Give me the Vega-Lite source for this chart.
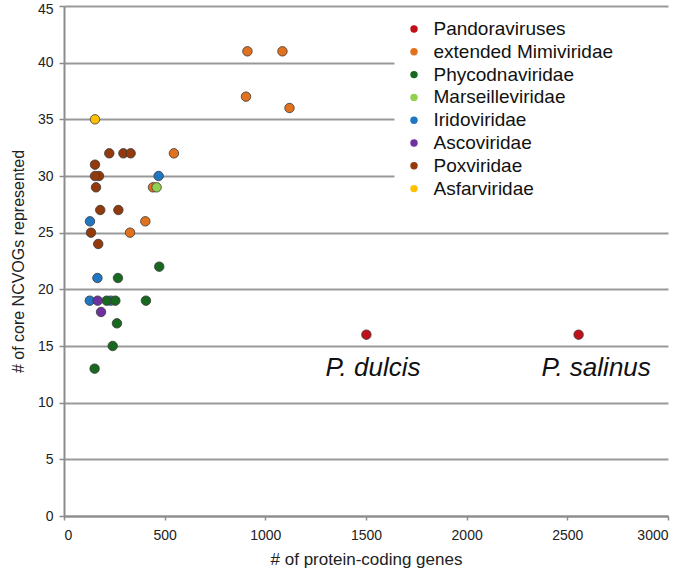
{
  "$schema": "https://vega.github.io/schema/vega-lite/v6.json",
  "width": 604,
  "height": 510,
  "autosize": {"type": "none"},
  "padding": {"left": 64, "top": 6, "right": 17, "bottom": 53},
  "background": "white",
  "config": {"view": {"stroke": null}, "font": "Liberation Sans"},
  "datasets": {
    "pts": [
      {"genes": 1502, "ncvogs": 16, "group": "Pandoraviruses"},
      {"genes": 2556, "ncvogs": 16, "group": "Pandoraviruses"},
      {"genes": 911, "ncvogs": 41, "group": "extended Mimiviridae"},
      {"genes": 1085, "ncvogs": 41, "group": "extended Mimiviridae"},
      {"genes": 904, "ncvogs": 37, "group": "extended Mimiviridae"},
      {"genes": 1120, "ncvogs": 36, "group": "extended Mimiviridae"},
      {"genes": 546, "ncvogs": 32, "group": "extended Mimiviridae"},
      {"genes": 442, "ncvogs": 29, "group": "extended Mimiviridae"},
      {"genes": 404, "ncvogs": 26, "group": "extended Mimiviridae"},
      {"genes": 328, "ncvogs": 25, "group": "extended Mimiviridae"},
      {"genes": 473, "ncvogs": 22, "group": "Phycodnaviridae"},
      {"genes": 268, "ncvogs": 21, "group": "Phycodnaviridae"},
      {"genes": 407, "ncvogs": 19, "group": "Phycodnaviridae"},
      {"genes": 263, "ncvogs": 17, "group": "Phycodnaviridae"},
      {"genes": 242, "ncvogs": 15, "group": "Phycodnaviridae"},
      {"genes": 152, "ncvogs": 13, "group": "Phycodnaviridae"},
      {"genes": 460, "ncvogs": 29, "group": "Marseilleviridae"},
      {"genes": 470, "ncvogs": 30, "group": "Iridoviridae"},
      {"genes": 129, "ncvogs": 26, "group": "Iridoviridae"},
      {"genes": 166, "ncvogs": 21, "group": "Iridoviridae"},
      {"genes": 128, "ncvogs": 19, "group": "Iridoviridae"},
      {"genes": 232, "ncvogs": 19, "group": "Iridoviridae"},
      {"genes": 212, "ncvogs": 19, "group": "Phycodnaviridae"},
      {"genes": 255, "ncvogs": 19, "group": "Phycodnaviridae"},
      {"genes": 167, "ncvogs": 19, "group": "Ascoviridae"},
      {"genes": 184, "ncvogs": 18, "group": "Ascoviridae"},
      {"genes": 225, "ncvogs": 32, "group": "Poxviridae"},
      {"genes": 295, "ncvogs": 32, "group": "Poxviridae"},
      {"genes": 331, "ncvogs": 32, "group": "Poxviridae"},
      {"genes": 154, "ncvogs": 31, "group": "Poxviridae"},
      {"genes": 174, "ncvogs": 30, "group": "Poxviridae"},
      {"genes": 154, "ncvogs": 30, "group": "Poxviridae"},
      {"genes": 159, "ncvogs": 29, "group": "Poxviridae"},
      {"genes": 180, "ncvogs": 27, "group": "Poxviridae"},
      {"genes": 270, "ncvogs": 27, "group": "Poxviridae"},
      {"genes": 134, "ncvogs": 25, "group": "Poxviridae"},
      {"genes": 170, "ncvogs": 24, "group": "Poxviridae"},
      {"genes": 154, "ncvogs": 35, "group": "Asfarviridae"}
    ],
    "notes": [
      {"genes": 1535, "ncvogs": 13.1, "label": "P. dulcis"},
      {"genes": 2643, "ncvogs": 13.1, "label": "P. salinus"}
    ]
  },
  "layer": [
    {
      "data": {"name": "pts"},
      "mark": {"type": "circle", "size": 90, "opacity": 1, "stroke": "#3a3a3a", "strokeWidth": 0.8},
      "encoding": {
        "x": {
          "field": "genes", "type": "quantitative",
          "scale": {"domain": [0, 3000], "nice": false},
          "axis": {
            "values": [0, 500, 1000, 1500, 2000, 2500, 3000],
            "format": "d",
            "grid": false,
            "domainColor": "#8c8c8c", "domainWidth": 2,
            "tickColor": "#8c8c8c", "tickWidth": 1.5, "tickSize": 4,
            "labelFontSize": 14, "labelColor": "#222", "labelPadding": 8,
            "title": "# of protein-coding genes",
            "titleFontSize": 17, "titleFontWeight": "normal", "titleColor": "#222", "titlePadding": 9
          }
        },
        "y": {
          "field": "ncvogs", "type": "quantitative",
          "scale": {"domain": [0, 45], "nice": false},
          "axis": {
            "values": [0, 5, 10, 15, 20, 25, 30, 35, 40, 45],
            "grid": true, "gridColor": "#999999", "gridWidth": 2,
            "domainColor": "#8c8c8c", "domainWidth": 2,
            "tickColor": "#8c8c8c", "tickWidth": 1.5, "tickSize": 5,
            "labelFontSize": 14, "labelColor": "#222", "labelPadding": 6,
            "labelOffset": {"condition": {"test": "datum.value == 45", "value": 3}, "value": 0},
            "title": "# of core NCVOGs  represented",
            "titleFontSize": 16, "titleFontWeight": "normal", "titleColor": "#222", "titlePadding": 11
          }
        },
        "color": {
          "field": "group", "type": "nominal",
          "scale": {
            "domain": ["Pandoraviruses", "extended Mimiviridae", "Phycodnaviridae", "Marseilleviridae", "Iridoviridae", "Ascoviridae", "Poxviridae", "Asfarviridae"],
            "range": ["#C0111B", "#E2711D", "#17691F", "#93D050", "#1F77C4", "#7031A0", "#933A0C", "#FFC000"]
          },
          "legend": {
            "title": "\u00a0",
            "titleOrient": "right",
            "titlePadding": 60,
            "titleFontSize": 10,
            "orient": "none",
            "legendX": 330.5,
            "legendY": 3.5,
            "padding": 10,
            "fillColor": "white",
            "symbolType": "circle",
            "symbolSize": 55,
            "symbolStrokeWidth": 0,
            "symbolOpacity": 1,
            "labelFontSize": 19,
            "labelColor": "#111",
            "labelOffset": 10,
            "rowPadding": 2.8,
            "labelLimit": 500
          }
        }
      }
    },
    {
      "data": {"name": "notes"},
      "mark": {"type": "text", "fontStyle": "italic", "fontSize": 26, "color": "#111", "baseline": "middle", "align": "center"},
      "encoding": {
        "x": {"field": "genes", "type": "quantitative"},
        "y": {"field": "ncvogs", "type": "quantitative"},
        "text": {"field": "label"}
      }
    }
  ]
}
